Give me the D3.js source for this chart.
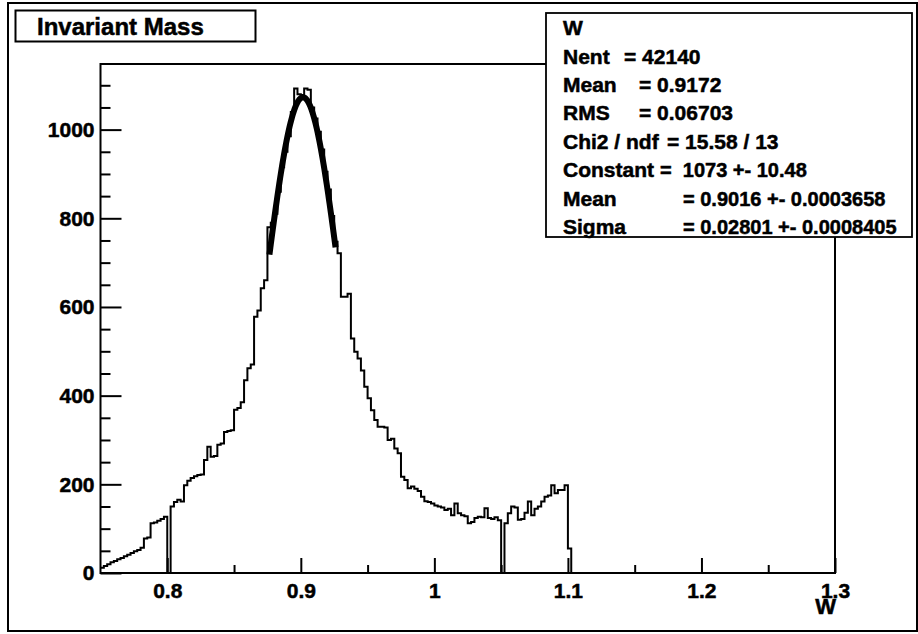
<!DOCTYPE html>
<html>
<head>
<meta charset="utf-8">
<script src="https://cdn.jsdelivr.net/npm/d3@7"></script>
<style>
  html, body { margin: 0; padding: 0; background: #fff; }
  svg { display: block; }
  text { font-family: "Liberation Sans", Arial, Helvetica, sans-serif; font-weight: bold; fill: #000; stroke: #000; stroke-width: 0.5px; }
</style>
</head>
<body>
<svg id="chart" width="918" height="634"></svg>
<script>
// ---------------- data ----------------
const histTitle = "Invariant Mass";
const axisTitle = "W";
const binLow = 0.75;
const binWidth = 0.0025;
// bin contents, bins of 0.0025 starting at 0.75 (all later bins are empty)
const counts = [
  12, 16, 20, 24, 27, 31, 34, 38, 41, 45, 49, 52, 57, 78, 80, 112, 114, 118, 122, 127,
  0, 150, 160, 165, 161, 198, 208, 214, 218, 221,
  222, 255, 285, 262, 264, 289, 292, 318, 320, 322,
  368, 372, 385, 435, 462, 470, 578, 592, 642, 660,
  780, 790, 810, 860, 915, 950, 985, 1040, 1093, 1080,
  1078, 1093, 1090, 1050, 1025, 995, 955, 905, 865, 805,
  747, 721, 623, 623, 630, 529, 499, 484, 457, 420,
  394, 367, 345, 330, 330, 328, 300, 303, 281, 270,
  217, 210, 191, 195, 190, 185, 172, 162, 160, 157,
  152, 150, 148, 142, 145, 130, 157, 135, 130, 128,
  112, 115, 124, 127, 126, 146, 124, 122, 126, 119,
  0, 112, 135, 150, 148, 120, 122, 136, 161, 130,
  145, 150, 161, 172, 175, 198, 180, 187, 187, 198,
  55
];
// Gaussian fit shown in the stats box
const fitConstant = 1073;
const fitMean = 0.9016;
const fitSigma = 0.02801;
const fitRange = [0.8765, 0.926];

const xDomain = [0.75, 1.3];
const yDomain = [0, 1148];
const xMajorTicks = [0.8, 0.9, 1.0, 1.1, 1.2, 1.3];
const xTickLabels = ["0.8", "0.9", "1", "1.1", "1.2", "1.3"];
const xMinorTicks = [0.85, 0.95, 1.05, 1.15, 1.25];
const yMajorTicks = [0, 200, 400, 600, 800, 1000];
const yTickLabels = ["0", "200", "400", "600", "800", "1000"];
const yMinorTicks = [50, 100, 150, 250, 300, 350, 450, 500, 550, 650, 700, 750, 850, 900, 950, 1050, 1100];

const statsTitle = "W";
const statsNames  = ["Nent", "Mean", "RMS", "Chi2 / ndf", "Constant", "Mean", "Sigma"];
const statsValues = ["= 42140", "= 0.9172", "= 0.06703", "= 15.58 / 13", "=  1073 +- 10.48", "= 0.9016 +- 0.0003658", "= 0.02801 +- 0.0008405"];

// ---------------- drawing ----------------
const svg = d3.select("#chart");
const plot = { left: 100.5, right: 835, top: 64, bottom: 573 };

const x = d3.scaleLinear().domain(xDomain).range([plot.left, plot.right]);
const y = d3.scaleLinear().domain(yDomain).range([plot.bottom, plot.top]);

// outer pad border
svg.append("rect").attr("x", 8).attr("y", 3).attr("width", 909).attr("height", 628)
  .attr("fill", "none").attr("stroke", "#000").attr("stroke-width", 2);

// histogram outline (step)
const pts = counts.map((c, i) => [binLow + i * binWidth, c]);
const lastEdge = binLow + counts.length * binWidth;
pts.push([lastEdge, counts[counts.length - 1]]);
pts.push([lastEdge, 0]);
pts.push([xDomain[1], 0]);
const stepLine = d3.line().x(d => x(d[0])).y(d => y(d[1])).curve(d3.curveStepAfter);
svg.append("path").attr("d", stepLine(pts)).attr("fill", "none")
  .attr("stroke", "#000").attr("stroke-width", 2).attr("stroke-linejoin", "miter");

// fit curve
const fitPts = d3.range(fitRange[0], fitRange[1] + 1e-9, 0.0005)
  .map(v => [v, fitConstant * Math.exp(-0.5 * Math.pow((v - fitMean) / fitSigma, 2))]);
const fitLine = d3.line().x(d => x(d[0])).y(d => y(d[1]));
svg.append("path").attr("d", fitLine(fitPts)).attr("fill", "none")
  .attr("stroke", "#000").attr("stroke-width", 6);

// frame
svg.append("rect").attr("x", plot.left).attr("y", plot.top)
  .attr("width", plot.right - plot.left).attr("height", plot.bottom - plot.top)
  .attr("fill", "none").attr("stroke", "#000").attr("stroke-width", 2);

// y axis
const yAxis = d3.axisLeft(y).tickValues(yMajorTicks).tickSize(-21).tickPadding(6)
  .tickFormat((d, i) => yTickLabels[i]);
const gy = svg.append("g").attr("transform", `translate(${plot.left},0)`).call(yAxis);
const yAxisMinor = d3.axisLeft(y).tickValues(yMinorTicks).tickSize(-10).tickFormat("");
const gym = svg.append("g").attr("transform", `translate(${plot.left},0)`).call(yAxisMinor);

// x axis
const xAxis = d3.axisBottom(x).tickValues(xMajorTicks).tickSize(-15).tickPadding(10)
  .tickFormat((d, i) => xTickLabels[i]);
const gx = svg.append("g").attr("transform", `translate(0,${plot.bottom})`).call(xAxis);
const xAxisMinor = d3.axisBottom(x).tickValues(xMinorTicks).tickSize(-8).tickFormat("");
const gxm = svg.append("g").attr("transform", `translate(0,${plot.bottom})`).call(xAxisMinor);

[gy, gym, gx, gxm].forEach(g => {
  g.select(".domain").remove();
  g.selectAll(".tick line").attr("stroke", "#000").attr("stroke-width", 2);
  g.selectAll("text").attr("font-size", 21).attr("fill", "#000")
    .attr("font-family", '"Liberation Sans", Arial, sans-serif').attr("font-weight", "bold");
});

// axis title
svg.append("text").attr("x", 836).attr("y", 614).attr("text-anchor", "end")
  .attr("font-size", 22).text(axisTitle);

// title box
svg.append("rect").attr("x", 15.5).attr("y", 10.5).attr("width", 240).attr("height", 31)
  .attr("fill", "#fff").attr("stroke", "#000").attr("stroke-width", 2);
svg.append("text").attr("x", 37).attr("y", 35).attr("font-size", 24).text(histTitle);

// stats box
svg.append("rect").attr("x", 546).attr("y", 13).attr("width", 366).attr("height", 224)
  .attr("fill", "#fff").attr("stroke", "#000").attr("stroke-width", 1.8);
const rowY = [35, 64, 92, 120, 149, 177, 206, 234];
const valueX = [624, 639, 639, 667, 660, 683, 683];
const valueSize = [21, 21, 21, 21, 20, 20, 20];
svg.append("text").attr("x", 563).attr("y", rowY[0]).attr("font-size", 21).text(statsTitle);
statsNames.forEach((n, i) => {
  svg.append("text").attr("x", 563).attr("y", rowY[i + 1]).attr("font-size", 21).text(n);
  svg.append("text").attr("x", valueX[i]).attr("y", rowY[i + 1]).attr("font-size", valueSize[i])
    .attr("xml:space", "preserve").style("white-space", "pre").text(statsValues[i]);
});
</script>
</body>
</html>
